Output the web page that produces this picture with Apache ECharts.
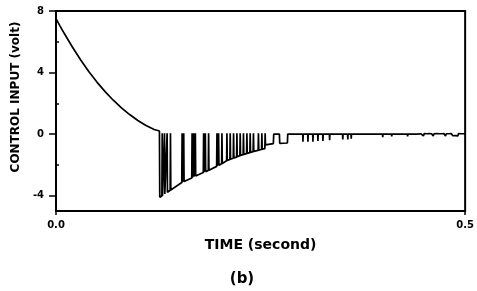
<!DOCTYPE html>
<html lang="en">
<head>
  <meta charset="UTF-8">
  <script src="https://cdn.jsdelivr.net/npm/echarts@6/dist/echarts.min.js"></script>
  <title>Control input</title>
  <style>
    html, body { margin: 0; padding: 0; background: #fff; }
    #chart { width: 477px; height: 291px; }
  </style>
</head>
<body>
  <div id="chart"></div>
  <script>
    // axis ticks
    const xTicks = [0, 0.5];
    const xLabels = [0, 0.5];
    const yTicks = [-4, 0, 4, 8];
    const yMinorTicks = [-2, 2, 6];

    // smooth part before reaching the switching surface [time, volt]
    const decay = [
      [0, 7.5], [0.005, 7.02], [0.01, 6.55], [0.02, 5.66], [0.03, 4.83],
      [0.04, 4.07], [0.05, 3.38], [0.06, 2.76], [0.07, 2.2], [0.08, 1.7],
      [0.09, 1.27], [0.1, 0.88], [0.11, 0.56], [0.12, 0.3], [0.1264, 0.2]
    ];

    // chattering phase, spikes up to the surface
    const chatter = [
      [0.1264, 0.2], [0.1268, -4.1],
      [0.1294, -4.02], [0.1298, 0.05], [0.1302, -4.0],
      [0.1322, -3.92], [0.1326, 0.05], [0.1330, -3.9],
      [0.1354, -3.8], [0.1358, 0.05], [0.1362, -3.78],
      [0.1395, -3.65], [0.1399, 0.05], [0.1403, -3.63],
      [0.1537, -3.15], [0.1541, 0.05], [0.1545, -3.13],
      [0.1557, -3.1], [0.1561, 0.05], [0.1565, -3.08],
      [0.1659, -2.85], [0.1663, 0.05], [0.1667, -2.83],
      [0.1678, -2.8], [0.1682, 0.05], [0.1686, -2.78],
      [0.1699, -2.75], [0.1703, 0.05], [0.1707, -2.73],
      [0.1800, -2.5], [0.1804, 0.05], [0.1808, -2.48],
      [0.1821, -2.46], [0.1825, 0.05], [0.1829, -2.44],
      [0.1861, -2.37], [0.1865, 0.05], [0.1869, -2.35],
      [0.1963, -2.1], [0.1967, 0.05], [0.1971, -2.08],
      [0.1983, -2.05], [0.1987, 0.05], [0.1991, -2.03],
      [0.2024, -1.93], [0.2028, 0.05], [0.2032, -1.91],
      [0.2085, -1.73], [0.2089, 0.05], [0.2093, -1.71],
      [0.2125, -1.65], [0.2129, 0.05], [0.2133, -1.63],
      [0.2166, -1.57], [0.2170, 0.05], [0.2174, -1.55],
      [0.2207, -1.5], [0.2211, 0.05], [0.2215, -1.48],
      [0.2247, -1.4], [0.2251, 0.05], [0.2255, -1.38],
      [0.2287, -1.34], [0.2291, 0.05], [0.2295, -1.32],
      [0.2329, -1.27], [0.2333, 0.05], [0.2337, -1.25],
      [0.2369, -1.21], [0.2373, 0.05], [0.2377, -1.19],
      [0.2409, -1.14], [0.2413, 0.05], [0.2417, -1.12],
      [0.2470, -1.06], [0.2474, 0.05], [0.2478, -1.04],
      [0.2512, -1.0], [0.2516, 0.05], [0.2520, -0.98],
      [0.2552, -0.95], [0.2556, 0.05], [0.2560, -0.7],
      [0.2656, -0.62], [0.2661, 0.0], [0.2730, 0.0], [0.2734, -0.6],
      [0.2828, -0.58], [0.2832, 0.0]
    ];

    // settled near zero, small dips
    const settle = [
      [0.3015, 0], [0.3018, -0.5], [0.3021, 0],
      [0.3076, 0], [0.3079, -0.5], [0.3082, 0],
      [0.3137, 0], [0.3140, -0.5], [0.3143, 0],
      [0.3198, 0], [0.3201, -0.45], [0.3204, 0],
      [0.3259, 0], [0.3262, -0.45], [0.3265, 0],
      [0.3341, 0], [0.3344, -0.4], [0.3347, 0],
      [0.3502, 0], [0.3505, -0.35], [0.3508, 0],
      [0.3563, 0], [0.3566, -0.35], [0.3569, 0],
      [0.3605, 0], [0.3608, -0.3], [0.3611, 0],
      [0.3990, 0], [0.3993, -0.2], [0.3996, 0],
      [0.4100, 0], [0.4103, -0.15], [0.4106, 0],
      [0.4294, 0], [0.4297, -0.15], [0.4300, 0],
      [0.4343, 0], [0.4346, -0.12], [0.4349, 0],
      [0.4415, 0], [0.4418, -0.12], [0.4421, 0],
      [0.446, 0.02], [0.447, -0.1], [0.448, 0.02], [0.449, -0.12], [0.450, 0.03],
      [0.452, -0.1], [0.453, 0.02], [0.455, -0.11], [0.456, 0.03], [0.458, -0.1],
      [0.459, 0.02], [0.461, -0.12], [0.462, 0.02], [0.464, -0.1], [0.465, 0.03],
      [0.467, -0.1], [0.468, 0.02], [0.470, -0.11], [0.471, 0.02], [0.473, -0.1],
      [0.474, 0.03], [0.476, -0.12], [0.477, 0.02], [0.479, -0.1], [0.480, 0.02],
      [0.482, -0.1], [0.483, 0.03], [0.485, -0.11], [0.486, 0.02], [0.488, -0.1],
      [0.489, 0.02], [0.491, -0.12], [0.492, 0.03], [0.494, -0.1], [0.495, 0.02],
      [0.497, -0.1], [0.498, 0.02], [0.5, 0]
    ];

    const chart = echarts.init(document.getElementById('chart'));
    const font = 'DejaVu Sans, Verdana, sans-serif';

    chart.setOption({
      animation: false,
      backgroundColor: '#fff',
      grid: {
        left: 56, right: 11, top: 11, bottom: 80,
        show: true, borderColor: '#000', borderWidth: 2
      },
      xAxis: {
        type: 'value', min: 0, max: 0.5,
        name: 'TIME (second)', nameLocation: 'middle', nameGap: 27,
        nameTextStyle: { fontFamily: font, fontWeight: 'bold', fontSize: 14, color: '#000' },
        axisLine: { onZero: false, lineStyle: { color: '#000', width: 2 } },
        axisTick: { customValues: xTicks, length: 4, lineStyle: { color: '#000', width: 1.5 } },
        axisLabel: {
          customValues: xLabels, margin: 9,
          fontFamily: font, fontWeight: 'bold', fontSize: 10, color: '#000',
          formatter: v => v.toFixed(1)
        },
        splitLine: { show: false }
      },
      yAxis: [
        {
          type: 'value', min: -5, max: 8,
          axisLine: { onZero: false, lineStyle: { color: '#000', width: 2 } },
          axisTick: { customValues: yTicks, length: 7, lineStyle: { color: '#000', width: 1.5 } },
          axisLabel: {
            customValues: yTicks, margin: 12,
            fontFamily: font, fontWeight: 'bold', fontSize: 10, color: '#000'
          },
          splitLine: { show: false }
        },
        {
          // inner minor ticks on the left side
          type: 'value', min: -5, max: 8, position: 'left',
          axisLine: { show: false },
          axisTick: { customValues: yMinorTicks, inside: true, length: 3, lineStyle: { color: '#000', width: 1.5 } },
          axisLabel: { show: false },
          splitLine: { show: false }
        }
      ],
      graphic: [
        {
          type: 'text', x: 16, y: 97, rotation: Math.PI / 2,
          style: {
            text: 'CONTROL INPUT (volt)', fontFamily: font, fontWeight: 'bold',
            fontSize: 12, fill: '#000', align: 'center', verticalAlign: 'middle'
          }
        },
        {
          type: 'text', x: 242, y: 279,
          style: {
            text: '(b)', fontFamily: font, fontWeight: 'bold',
            fontSize: 15, fill: '#000', align: 'center', verticalAlign: 'middle'
          }
        }
      ],
      series: [{
        type: 'line',
        data: decay.concat(chatter, settle),
        showSymbol: false,
        lineStyle: { color: '#000', width: 1.7 },
        emphasis: { disabled: true }
      }]
    });
  </script>
</body>
</html>
